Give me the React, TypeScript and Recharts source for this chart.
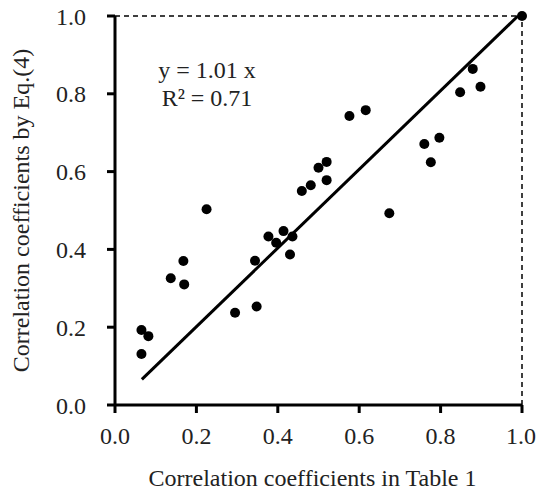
import { ScatterChart, Scatter, XAxis, YAxis, ReferenceLine, Customized } from "recharts"

// values
const tableCoef = [
  0.065, 0.082, 0.065, 0.225, 0.137, 0.168, 0.17, 0.295, 0.348, 0.344,
  0.377, 0.396, 0.414, 0.436, 0.43, 0.459, 0.481, 0.5, 0.52, 0.52,
  0.576, 0.616, 0.674, 0.76, 0.797, 0.776, 0.848, 0.879, 0.898, 1.0,
]
const eqCoef = [
  0.193, 0.177, 0.131, 0.503, 0.326, 0.37, 0.31, 0.237, 0.253, 0.371,
  0.433, 0.417, 0.447, 0.433, 0.387, 0.55, 0.565, 0.61, 0.625, 0.578,
  0.743, 0.758, 0.493, 0.671, 0.687, 0.624, 0.804, 0.864, 0.818, 1.0,
]
const fitX = [0.066, 0.99]
const fitY = [0.066, 1.0]
const ticks = [0, 0.2, 0.4, 0.6, 0.8, 1.0]
const eqLines = ["y = 1.01 x", "R² = 0.71"]

const points = tableCoef.map((x, i) => ({ x, y: eqCoef[i] }))
const fitLine = fitX.map((x, i) => ({ x, y: fitY[i] }))

const font = "'Liberation Serif', 'Times New Roman', serif"
const textStyle = { fontFamily: font, fontSize: 24, fill: "#222" }

function Equation() {
  return (
    <g fontFamily={font} fontSize={24} fill="#222" textAnchor="middle">
      <text x={207} y={78}>{eqLines[0]}</text>
      <text x={207} y={106}>{eqLines[1]}</text>
    </g>
  )
}

export default function App() {
  return (
    <div style={{ position: "absolute", left: 0, top: 0, background: "#fff" }}>
      <ScatterChart width={536} height={497} margin={{ top: 16, right: 14, bottom: 0, left: 0 }}>
        <XAxis
          type="number"
          dataKey="x"
          domain={[0, 1]}
          ticks={ticks}
          tickFormatter={(v: number) => v.toFixed(1)}
          tick={textStyle}
          tickSize={8}
          tickMargin={14}
          height={92}
          stroke="#000"
          strokeWidth={3}
          label={{ value: "Correlation coefficients in Table 1", position: "insideBottom", offset: 11, dx: -6, style: { ...textStyle, textAnchor: "middle" } }}
        />
        <YAxis
          type="number"
          dataKey="y"
          domain={[0, 1]}
          ticks={ticks}
          tickFormatter={(v: number) => v.toFixed(1)}
          tick={textStyle}
          tickSize={8}
          tickMargin={21}
          width={115}
          stroke="#000"
          strokeWidth={3}
          label={{ value: "Correlation coefficients by Eq.(4)", angle: -90, position: "insideLeft", offset: 20, style: { ...textStyle, textAnchor: "middle" } }}
        />
        <ReferenceLine y={1} stroke="#000" strokeWidth={1.5} strokeDasharray="5 4" />
        <ReferenceLine x={1} stroke="#000" strokeWidth={1.5} strokeDasharray="5 4" />
        <Scatter data={fitLine} line={{ stroke: "#000", strokeWidth: 3 }} shape={() => <g />} isAnimationActive={false} />
        <Scatter
          data={points}
          fill="#000"
          shape={(p: any) => <circle cx={p.cx} cy={p.cy} r={5} fill="#000" />}
          isAnimationActive={false}
        />
        <Customized component={Equation} />
      </ScatterChart>
    </div>
  )
}
